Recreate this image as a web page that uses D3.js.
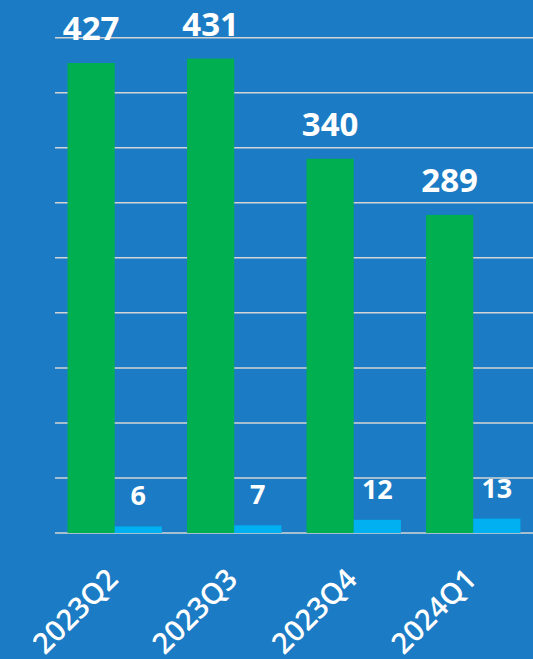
<!DOCTYPE html>
<html>
<head>
<meta charset="utf-8">
<script src="https://cdn.jsdelivr.net/npm/d3@7"></script>
<style>
  html, body { margin: 0; padding: 0; background: #1b7bc4; }
  svg { display: block; }
</style>
</head>
<body>
<svg></svg>
<script>
// Data
const quarters = ["2023Q2", "2023Q3", "2023Q4", "2024Q1"];
const greenValues = [427, 431, 340, 289];
const blueValues = [6, 7, 12, 13];
const gridTicks = [0, 50, 100, 150, 200, 250, 300, 350, 400, 450];

const width = 533;
const height = 659;
const margin = { top: 37.7, right: 0, bottom: 126, left: 55 };

const svg = d3.select("svg")
    .attr("width", width)
    .attr("height", height);

svg.append("rect")
    .attr("width", width)
    .attr("height", height)
    .attr("fill", "#1b7bc4");

// Scales
const x = d3.scaleBand()
    .domain(quarters)
    .range([margin.left, width - margin.right])
    .paddingInner(0.21)
    .paddingOuter(0.105);

const sub = d3.scaleBand()
    .domain(["green", "blue"])
    .range([0, x.bandwidth()]);

const y = d3.scaleLinear()
    .domain([0, 450])
    .range([height - margin.bottom, margin.top]);

// Gridlines
svg.append("g")
    .selectAll("line")
    .data(gridTicks)
    .join("line")
    .attr("x1", margin.left)
    .attr("x2", width)
    .attr("y1", d => y(d))
    .attr("y2", d => y(d))
    .attr("stroke", "#d4d4d4")
    .attr("stroke-width", 1.5);

const rows = quarters.map((q, i) => ({ q, green: greenValues[i], blue: blueValues[i] }));

// Green bars
svg.append("g")
    .selectAll("rect")
    .data(rows)
    .join("rect")
    .attr("x", d => x(d.q) + sub("green"))
    .attr("y", d => y(d.green))
    .attr("width", sub.bandwidth())
    .attr("height", d => y(0) - y(d.green))
    .attr("fill", "#00b050");

// Blue bars
svg.append("g")
    .selectAll("rect")
    .data(rows)
    .join("rect")
    .attr("x", d => x(d.q) + sub("blue"))
    .attr("y", d => y(d.blue))
    .attr("width", sub.bandwidth())
    .attr("height", d => y(0) - y(d.blue))
    .attr("fill", "#00b0f0");

// Value labels
svg.append("g")
    .selectAll("text")
    .data(rows)
    .join("text")
    .attr("x", d => x(d.q) + sub("green") + sub.bandwidth() / 2)
    .attr("y", d => y(d.green) - 23)
    .attr("text-anchor", "middle")
    .attr("fill", "#fff")
    .attr("font-family", "'Open Sans', sans-serif")
    .attr("font-weight", "bold")
    .attr("font-size", "33px")
    .text(d => d.green);

svg.append("g")
    .selectAll("text")
    .data(rows)
    .join("text")
    .attr("x", d => x(d.q) + sub("blue") + sub.bandwidth() / 2)
    .attr("y", d => y(d.blue) - 21)
    .attr("text-anchor", "middle")
    .attr("fill", "#fff")
    .attr("font-family", "'Open Sans', sans-serif")
    .attr("font-weight", "bold")
    .attr("font-size", "27px")
    .text(d => d.blue);

// Category labels
svg.append("g")
    .selectAll("text")
    .data(quarters)
    .join("text")
    .attr("transform", d => `translate(${x(d) + x.bandwidth() / 2 + 5}, 581) rotate(-45)`)
    .attr("text-anchor", "end")
    .attr("fill", "#fff")
    .attr("font-family", "'Open Sans', sans-serif")
    .attr("font-weight", 600)
    .attr("font-size", "29px")
    .text(d => d);
</script>
</body>
</html>
